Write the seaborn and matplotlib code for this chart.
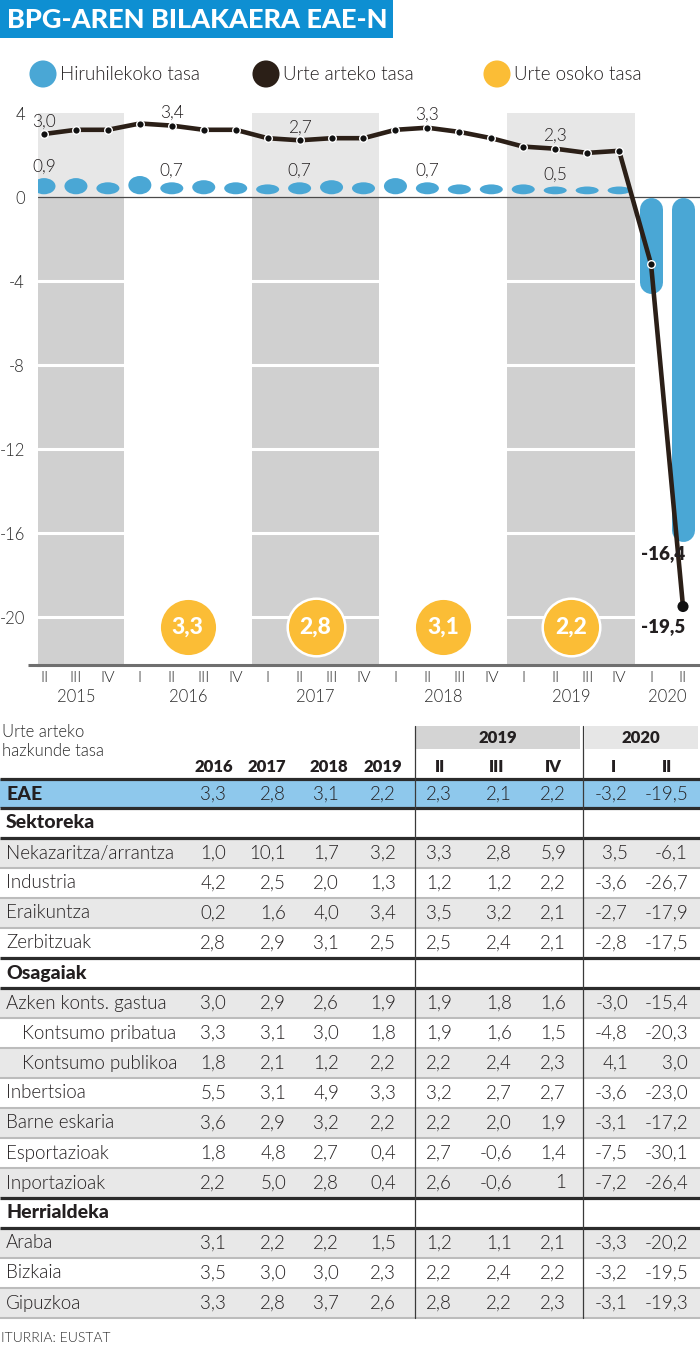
import numpy as np
import pandas as pd
import seaborn as sns
import matplotlib
matplotlib.use("Agg")
import matplotlib.pyplot as plt
from matplotlib.patches import Ellipse, Rectangle
import matplotlib.transforms as mtransforms

# ---------------- data ----------------
quarter_labels = ["II", "III", "IV",
                  "I", "II", "III", "IV",
                  "I", "II", "III", "IV",
                  "I", "II", "III", "IV",
                  "I", "II", "III", "IV",
                  "I", "II"]
quarter_years = [2015] * 3 + [2016] * 4 + [2017] * 4 + [2018] * 4 + [2019] * 4 + [2020] * 2
quarterly_rate = [0.9, 0.9, 0.7,
                  1.0, 0.7, 0.8, 0.7,
                  0.6, 0.7, 0.8, 0.7,
                  0.9, 0.7, 0.6, 0.6,
                  0.6, 0.5, 0.5, 0.5,
                  -4.6, -16.4]
interannual_rate = [3.0, 3.2, 3.2,
                    3.5, 3.4, 3.2, 3.2,
                    2.8, 2.7, 2.8, 2.8,
                    3.2, 3.3, 3.1, 2.8,
                    2.4, 2.3, 2.1, 2.2,
                    -3.2, -19.5]
annual_years = [2016, 2017, 2018, 2019]
annual_rate = [3.3, 2.8, 3.1, 2.2]
shaded_years = [2015, 2017, 2019]
labelled_points = [0, 4, 8, 12, 16]
y_ticks = [4, 0, -4, -8, -12, -16, -20]

table_title = ["Urte arteko", "hazkunde tasa"]
table_columns = ["2016", "2017", "2018", "2019", "II", "III", "IV", "I", "II"]
table_groups = ["2019", "2020"]

eae = ["3,3", "2,8", "3,1", "2,2", "2,3", "2,1", "2,2", "-3,2", "-19,5"]
nekazaritza = ["1,0", "10,1", "1,7", "3,2", "3,3", "2,8", "5,9", "3,5", "-6,1"]
industria = ["4,2", "2,5", "2,0", "1,3", "1,2", "1,2", "2,2", "-3,6", "-26,7"]
eraikuntza = ["0,2", "1,6", "4,0", "3,4", "3,5", "3,2", "2,1", "-2,7", "-17,9"]
zerbitzuak = ["2,8", "2,9", "3,1", "2,5", "2,5", "2,4", "2,1", "-2,8", "-17,5"]
azken_konts = ["3,0", "2,9", "2,6", "1,9", "1,9", "1,8", "1,6", "-3,0", "-15,4"]
kons_pribatua = ["3,3", "3,1", "3,0", "1,8", "1,9", "1,6", "1,5", "-4,8", "-20,3"]
kons_publikoa = ["1,8", "2,1", "1,2", "2,2", "2,2", "2,4", "2,3", "4,1", "3,0"]
inbertsioa = ["5,5", "3,1", "4,9", "3,3", "3,2", "2,7", "2,7", "-3,6", "-23,0"]
barne_eskaria = ["3,6", "2,9", "3,2", "2,2", "2,2", "2,0", "1,9", "-3,1", "-17,2"]
esportazioak = ["1,8", "4,8", "2,7", "0,4", "2,7", "-0,6", "1,4", "-7,5", "-30,1"]
inportazioak = ["2,2", "5,0", "2,8", "0,4", "2,6", "-0,6", "1", "-7,2", "-26,4"]
araba = ["3,1", "2,2", "2,2", "1,5", "1,2", "1,1", "2,1", "-3,3", "-20,2"]
bizkaia = ["3,5", "3,0", "3,0", "2,3", "2,2", "2,4", "2,2", "-3,2", "-19,5"]
gipuzkoa = ["3,3", "2,8", "3,7", "2,6", "2,8", "2,2", "2,3", "-3,1", "-19,3"]

sections = [
    ("Sektoreka", [("Nekazaritza/arrantza", False, nekazaritza),
                   ("Industria", False, industria),
                   ("Eraikuntza", False, eraikuntza),
                   ("Zerbitzuak", False, zerbitzuak)]),
    ("Osagaiak", [("Azken konts. gastua", False, azken_konts),
                  ("Kontsumo pribatua", True, kons_pribatua),
                  ("Kontsumo publikoa", True, kons_publikoa),
                  ("Inbertsioa", False, inbertsioa),
                  ("Barne eskaria", False, barne_eskaria),
                  ("Esportazioak", False, esportazioak),
                  ("Inportazioak", False, inportazioak)]),
    ("Herrialdeka", [("Araba", False, araba),
                     ("Bizkaia", False, bizkaia),
                     ("Gipuzkoa", False, gipuzkoa)]),
]

title = "BPG-AREN BILAKAERA EAE-N"
legend_labels = ["Hiruhilekoko tasa", "Urte arteko tasa", "Urte osoko tasa"]
source = "ITURRIA: EUSTAT"

# ---------------- style ----------------
sns.set_theme(style="white")
plt.rcParams["font.family"] = ["Lato", "DejaVu Sans"]
plt.rcParams["axes.unicode_minus"] = False

LIGHT = 300
BLUE_TITLE = "#0e8fd2"
BLUE = "#4aa7d5"
DARK = "#2b1f17"
YELLOW = "#fbbd36"
BAND_TOP = "#e7e7e7"
BAND_BOT = "#d0d0d0"
TXT = "#231f20"
ROW_GRAY = "#e8e8e8"
EAE_BLUE = "#8ec8ec"


def fmt(v):
    return f"{v:.1f}".replace(".", ",")


W, H = 700, 1350
fig = plt.figure(figsize=(W / 100, H / 100), dpi=100)

bg = fig.add_axes([0, 0, 1, 1], zorder=0)
bg.set_xlim(0, W)
bg.set_ylim(H, 0)
bg.axis("off")

# ---------------- chart ----------------
def fig_rect(x0, y0, x1, y1):
    return [x0 / W, 1 - y1 / H, (x1 - x0) / W, (y1 - y0) / H]

ax = fig.add_axes(fig_rect(38, 100, 700, 665), zorder=1)
ax.set_facecolor("none")
PXX, X0 = 31.95, 44.0
PXY, Y0 = 21.0, 197.0
ax.set_xlim((38 - X0) / PXX, (700 - X0) / PXX)
ax.set_ylim((Y0 - 665) / PXY, (Y0 - 100) / PXY)
ybot, ytop = ax.get_ylim()
xl, xr = ax.get_xlim()

idx = np.arange(len(quarter_labels))
years_arr = np.array(quarter_years)

for yr in shaded_years:
    sel = idx[years_arr == yr]
    a, b = max(sel.min() - 0.5, xl), sel.max() + 0.5
    ax.fill_between([a, b], 0, 4, color=BAND_TOP, lw=0, zorder=0)
    ax.fill_between([a, b], ybot, 0, color=BAND_BOT, lw=0, zorder=0)

for t in y_ticks:
    if t < 0:
        ax.axhline(t, color="white", lw=2.2, zorder=1)
ax.axhline(0, color="#4a4a4a", lw=0.9, zorder=2)

half_w_px = 11.5
for i, v in enumerate(quarterly_rate):
    if v > 0:
        base = 0.13
        ax.add_patch(Ellipse((i, (base + v) / 2), width=0.72, height=v - base,
                             facecolor=BLUE, edgecolor="none", zorder=3))
    else:
        cap = half_w_px / PXY
        ax.plot([i, i], [-cap, v + cap], color=BLUE, lw=2 * half_w_px * 0.72,
                solid_capstyle="round", zorder=3)

df_line = pd.DataFrame({"x": idx, "y": interannual_rate})
sns.lineplot(data=df_line, x="x", y="y", color=DARK, lw=3.3, ax=ax, zorder=5)
sns.scatterplot(data=df_line.iloc[:-1], x="x", y="y", s=30, color="#111111",
                edgecolor="white", linewidth=1.0, ax=ax, zorder=6)
sns.scatterplot(data=df_line.iloc[-1:], x="x", y="y", s=64, color="#111111",
                edgecolor="none", ax=ax, zorder=6)

for i in labelled_points:
    ax.annotate(fmt(interannual_rate[i]), (i, interannual_rate[i]), xytext=(0, 9),
                textcoords="offset points", ha="center", va="center",
                fontsize=12.5, fontweight=LIGHT, color=TXT, zorder=7)
    ax.annotate(fmt(quarterly_rate[i]), (i, quarterly_rate[i]), xytext=(0, 8.5),
                textcoords="offset points", ha="center", va="center",
                fontsize=12.5, fontweight=LIGHT, color=TXT, zorder=7)
last = len(idx) - 1
ax.annotate(fmt(quarterly_rate[last]), (last, quarterly_rate[last]), xytext=(-14, -8.5),
            textcoords="offset points", ha="center", va="center",
            fontsize=13.5, fontweight="heavy", color=TXT, zorder=7)
ax.annotate(fmt(interannual_rate[last]), (last, interannual_rate[last]), xytext=(-14, -14.5),
            textcoords="offset points", ha="center", va="center",
            fontsize=13.5, fontweight="heavy", color=TXT, zorder=7)

ANNUAL_Y = -20.48
annual_x = [idx[years_arr == yr].mean() for yr in annual_years]
df_ann = pd.DataFrame({"x": annual_x, "y": [ANNUAL_Y] * len(annual_x)})
sns.scatterplot(data=df_ann, x="x", y="y", s=1720, color=YELLOW, edgecolor="white",
                linewidth=1.8, ax=ax, zorder=4)
for x, v in zip(annual_x, annual_rate):
    ax.text(x, ANNUAL_Y, fmt(v), ha="center", va="center", color="white",
            fontsize=16.5, fontweight="black", zorder=5)

ax.set_xlabel("")
ax.set_ylabel("")
ax.set_yticks(y_ticks)
ax.set_yticklabels([str(t) for t in y_ticks])
ax.set_xticks(idx)
ax.set_xticklabels(quarter_labels)
ax.tick_params(axis="y", length=0, pad=9.5, labelsize=12, labelcolor="#2a2a2a")
ax.tick_params(axis="x", length=0, pad=4.0, labelsize=11.5, labelcolor="#2a2a2a")
for lab in ax.get_xticklabels() + ax.get_yticklabels():
    lab.set_fontweight(LIGHT)
for s in ["top", "right", "left"]:
    ax.spines[s].set_visible(False)
ax.spines["bottom"].set_color("#6f6f6f")
ax.spines["bottom"].set_linewidth(2.2)
bg.plot([28, 40], [665, 665], color="#6f6f6f", lw=2.2, solid_capstyle="butt")

trans = mtransforms.blended_transform_factory(ax.transData, ax.transAxes)
for yr in sorted(set(quarter_years)):
    cx = idx[years_arr == yr].mean()
    ax.text(cx, (665 - 697) / 565, str(yr), transform=trans, ha="center", va="center",
            fontsize=12, fontweight=LIGHT, color="#2a2a2a")

# ---------------- title & legend ----------------
bg.add_patch(Rectangle((0, 0), 393, 38, facecolor=BLUE_TITLE, edgecolor="none"))
bg.text(7, 20, title, ha="left", va="center", color="white", fontsize=19.5, fontweight="black")

leg_x = [43, 266, 497]
leg_c = [BLUE, DARK, YELLOW]
bg.scatter(leg_x, [74] * 3, s=380, c=leg_c, edgecolors="none")
for x, lab in zip(leg_x, legend_labels):
    bg.text(x + 17, 74, lab, ha="left", va="center", fontsize=13.5, fontweight=LIGHT, color=TXT)

# ---------------- table ----------------
val_right = [226, 286, 339, 396, 452, 512, 566, 628, 688]
head_center = [214, 267, 329, 383, 440, 497, 553, 613, 667]
VSEP = [415, 583]
TABLE_END = 1318
FS = 13.5

bg.text(2, 732, table_title[0], ha="left", va="center", fontsize=12, fontweight=LIGHT, color="#2a2a2a")
bg.text(2, 751, table_title[1], ha="left", va="center", fontsize=12, fontweight=LIGHT, color="#2a2a2a")
bg.add_patch(Rectangle((415, 726), 165, 23, facecolor="#d4d4d4", edgecolor="none"))
bg.add_patch(Rectangle((585, 726), 113, 23, facecolor="#e6e6e6", edgecolor="none"))
bg.text(498, 738, table_groups[0], ha="center", va="center", fontsize=12, fontweight="heavy", color=TXT)
bg.text(641, 738, table_groups[1], ha="center", va="center", fontsize=12, fontweight="heavy", color=TXT)
for x, c in zip(head_center, table_columns):
    bg.text(x, 767, c, ha="center", va="center", fontsize=12, fontweight="heavy", color=TXT)

def thick(y):
    bg.plot([0, 700], [y, y], color="#2b2b2b", lw=2.3, solid_capstyle="butt", zorder=3)

def thin(y):
    bg.plot([0, 700], [y, y], color="#bcbcbc", lw=1.5, solid_capstyle="butt", zorder=2)

def values(y, vals):
    for x, v in zip(val_right, vals):
        bg.text(x, y, v, ha="right", va="center", fontsize=FS, fontweight=LIGHT, color=TXT, zorder=4)

y = 779
thick(y)
bg.add_patch(Rectangle((0, y), 700, 29, facecolor=EAE_BLUE, edgecolor="none", zorder=1))
bg.text(6, y + 15, "EAE", ha="left", va="center", fontsize=14, fontweight="black", color=TXT)
values(y + 15, eae)
y += 29
thick(y)
ROW = 30
for sec_name, rows in sections:
    bg.text(6, y + 15, sec_name, ha="left", va="center", fontsize=14, fontweight="black", color=TXT)
    y += ROW
    thick(y)
    for k, (name, indent, vals) in enumerate(rows):
        if k % 2 == 0:
            bg.add_patch(Rectangle((0, y), 700, ROW, facecolor=ROW_GRAY, edgecolor="none", zorder=1))
        bg.text(22 if indent else 6, y + 15, name, ha="left", va="center", fontsize=FS,
                fontweight=LIGHT, color=TXT, zorder=4)
        values(y + 15, vals)
        y += ROW
        if k < len(rows) - 1:
            thin(y)
    if sec_name != sections[-1][0]:
        thick(y)
    else:
        thin(y)

for x in VSEP:
    bg.plot([x, x], [726, TABLE_END], color="#3a3a3a", lw=0.9, zorder=5)

bg.text(1, 1338, source, ha="left", va="center", fontsize=10, fontweight=LIGHT, color="#2a2a2a")

fig.savefig("out.png", dpi=100)
